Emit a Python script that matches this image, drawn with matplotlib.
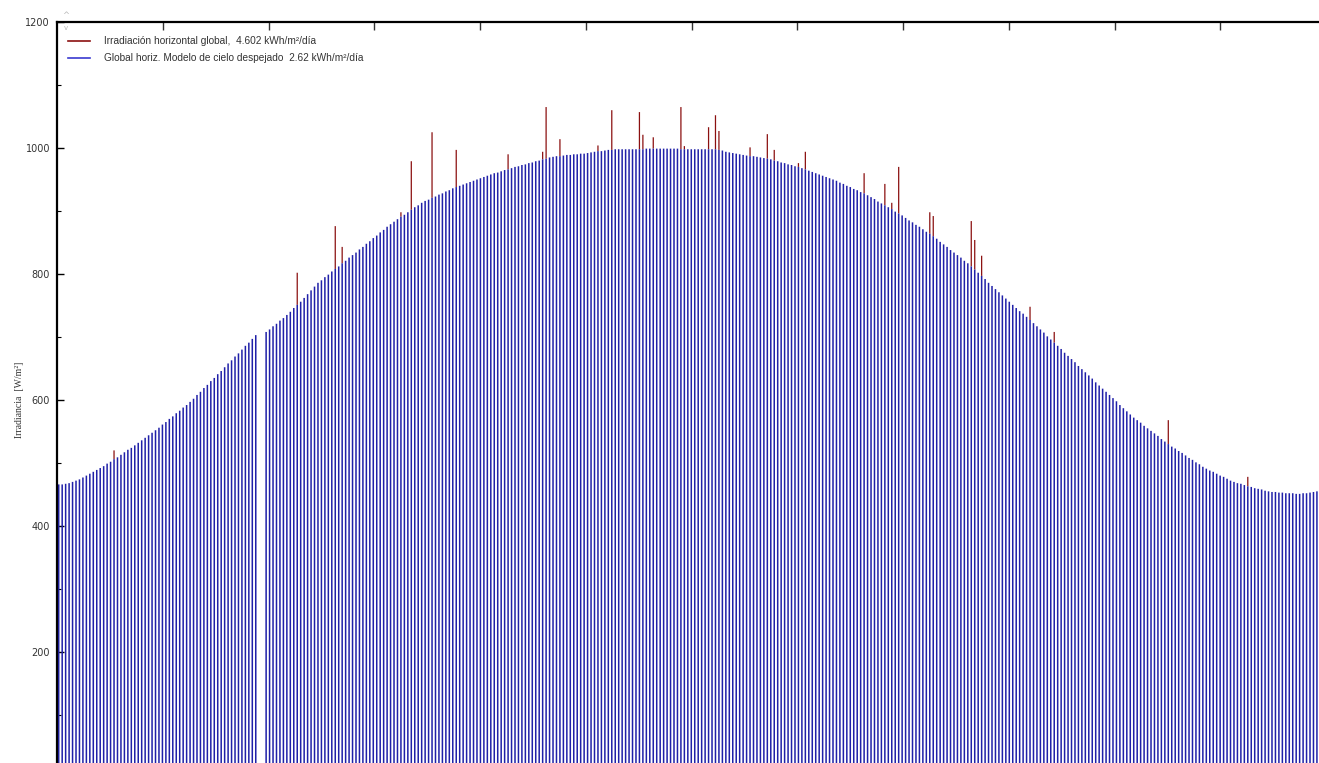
import numpy as np
import matplotlib
matplotlib.use("Agg")
import matplotlib.pyplot as plt
from matplotlib.lines import Line2D

# ---------------- data ----------------
nan = float("nan")
clear_sky = [
    466, 466, 467, 468, 470, 472, 474, 477, 480, 483,
    486, 489, 492, 495, 499, 502, 506, 509, 513, 517,
    521, 524, 528, 532, 536, 540, 544, 548, 552,
    556, 561, 565, 570, 574, 579, 583, 588, 592, 597,
    602, 608, 613, 619, 624, 630, 635, 641, 646, 652,
    658, 663, 669, 674, 680, 686, 691, 697, 703,
    nan, nan,
    708, 712, 717, 721, 726, 730, 735,
    740, 746, 751, 756,
    762, 768, 774, 780, 786,
    790, 795, 799, 804, 808, 812, 817, 821, 826, 830,
    834, 839, 843, 848, 852, 857, 861, 866, 870, 875,
    879, 883, 887, 891, 894, 898, 902, 906, 909, 913,
    916, 918, 921, 923, 926, 928, 931, 933, 936, 938,
    940, 942, 944, 946, 948, 950, 952, 954, 956,
    958, 960, 961, 963, 965, 966, 968, 970, 971, 973,
    974, 976, 977, 979, 980, 982, 983, 985, 986,
    987, 987, 988, 989, 989, 990, 990, 991, 991, 992,
    993, 994, 995, 995, 996, 997,
    997, 998, 998, 998, 998, 998, 998, 998, 998, 998,
    999, 999, 999, 999, 999, 999, 999, 999, 999, 999,
    998, 998, 998, 998, 998, 998, 998, 998, 998, 998,
    998,
    997, 996, 994,
    993, 992, 991, 990, 989, 988, 987,
    987, 986, 985, 984, 983,
    982, 980, 979, 977, 976,
    974, 973, 971, 970, 968,
    966, 964, 962, 960, 958, 956, 954, 952, 950,
    948, 945, 943, 940, 938, 935, 933, 930, 928, 925,
    922, 919, 915, 912, 909, 906, 903, 899, 896, 893,
    889, 885, 882, 878, 875, 871, 867, 864, 860,
    856, 851, 847, 843, 838, 834, 830, 826, 821, 817,
    812, 807, 802, 797, 792, 786, 781, 776, 771, 766,
    761, 756, 751, 746, 741, 737, 732, 727, 722,
    717, 712, 707, 701, 696, 691, 686, 681, 675, 670,
    665, 660, 654, 649, 644, 639, 634, 628, 623, 618,
    613, 608, 603, 598, 592, 587, 582, 577, 572,
    568, 564, 559, 555, 551, 547, 543, 538, 534, 530,
    526, 523, 519, 516, 512, 508, 505, 501, 498, 494,
    491, 488, 486, 483, 480, 478, 475, 472, 470,
    468, 467, 465, 463, 462, 460, 459, 458, 456, 455,
    454, 454, 453, 453, 452, 452, 452, 451, 451,
    452, 452, 453, 454, 455,
]
assert len(clear_sky) == 365, len(clear_sky)

measured_days = [16, 69, 80, 82, 99, 102, 108, 115, 130, 140, 141, 145, 156,
                 160, 168, 169, 172, 180, 181, 188, 190, 191, 200, 205, 207,
                 214, 216, 233, 239, 241, 243, 252, 253, 264, 265, 267, 281,
                 288, 321, 344]
measured_vals = [520, 802, 876, 843, 898, 979, 1025, 997, 990, 994, 1065, 1014,
                 1004, 1060, 1057, 1021, 1017, 1065, 1003, 1033, 1052, 1027,
                 1001, 1022, 997, 976, 994, 960, 943, 913, 970, 898, 892, 884,
                 854, 829, 748, 708, 568, 478]

legend_labels = ["Irradiación horizontal global,  4.602 kWh/m²/día",
                 "Global horiz. Modelo de cielo despejado  2.62 kWh/m²/día"]
y_label = "Irradiancia  [W/m²]"

# ---------------- figure ----------------
W, H = 1319, 763
fig = plt.figure(figsize=(W / 100, H / 100), dpi=100)
left = 57 / W
top = 22 / H
ax = fig.add_axes([left, 0.0, 1 - left, 1 - top])

red = "#8b1010"
blue = "#2020a8"

days = np.arange(len(clear_sky))
cs = np.array(clear_sky, dtype=float)
ok = ~np.isnan(cs)

# red part only visible above the clear-sky line
red_base = [cs[d] if not np.isnan(cs[d]) else 0 for d in measured_days]
ax.vlines(measured_days, red_base, measured_vals, colors=red,
          linewidth=0.9, snap=False)
ax.vlines(days[ok], 0, cs[ok], colors=blue, linewidth=1.1, snap=False)

ax.set_xlim(-0.5, 364.6)
ax.set_ylim(23.8, 1200)

# axes styling
for s in ["bottom", "right"]:
    ax.spines[s].set_visible(False)
ax.spines["top"].set_linewidth(1.6)
ax.spines["left"].set_linewidth(1.6)

ax.xaxis.tick_top()
ax.set_xticks([-0.5 + k * 30.6 for k in range(1, 12)])
ax.set_xticklabels([])
ax.tick_params(axis="x", direction="in", length=6, width=1, color="#333333")

ax.set_yticks([200, 400, 600, 800, 1000, 1200])
ax.set_yticks([100, 300, 500, 700, 900, 1100], minor=True)
ax.tick_params(axis="y", which="major", direction="in", length=5, width=1,
               labelsize=7, pad=5, labelcolor="#333333")
ax.tick_params(axis="y", which="minor", direction="in", length=3, width=0.8)

fig.text(20 / W, 1 - 400 / H, y_label, rotation=90, fontsize=7,
         family="Liberation Serif", color="#333333", ha="center", va="center")

# scroll widget glyphs near the top-left
fig.text(66 / W, 1 - 15 / H, "^", fontsize=6, color="#b8b8b8", ha="center", va="center")
fig.text(66 / W, 1 - 28 / H, "v", fontsize=5, color="#b8b8b8", ha="center", va="center")

handles = [Line2D([0], [0], color=red, lw=1.2),
           Line2D([0], [0], color="#3a3ad0", lw=1.2)]
ax.legend(handles, legend_labels, loc="upper left",
          bbox_to_anchor=(7 / (W - 57), 1 - 10 / (H - 22)),
          frameon=False, handlelength=2.2, handletextpad=1.3,
          labelspacing=0.7, borderaxespad=0.0, labelcolor="#333333",
          prop={"family": "Liberation Sans", "size": 7.3})

fig.savefig("out.png", dpi=100)
